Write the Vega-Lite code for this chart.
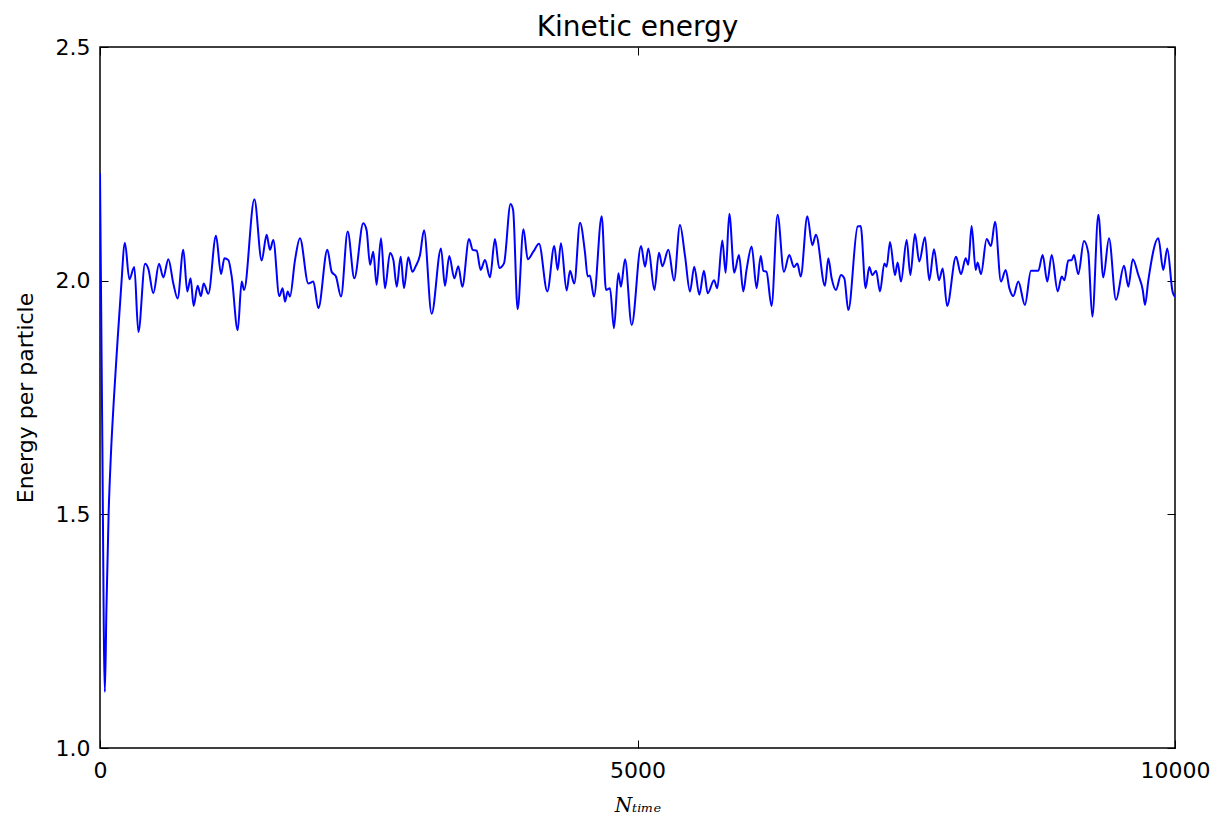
{
  "$schema": "https://vega.github.io/schema/vega-lite/v6.json",
  "width": 1075,
  "height": 701,
  "autosize": {"type": "none"},
  "padding": {"left": 100, "top": 47, "right": 42, "bottom": 70},
  "background": "white",
  "title": {"text": "Kinetic energy", "fontSize": 28, "font": "DejaVu Sans", "fontWeight": "normal", "color": "black", "offset": -6, "anchor": "middle"},
  "config": {
    "view": {"stroke": "black", "strokeWidth": 1.5},
    "axis": {"grid": false, "domain": false, "ticks": true, "tickSize": -8, "tickColor": "black", "tickWidth": 1, "labelFont": "DejaVu Sans", "labelFontSize": 22, "labelColor": "black", "labelFlush": false, "labelOverlap": false, "titleColor": "black"}
  },
  "data": {"values": [
    {"N": 0, "E": 2.23}, {"N": 20, "E": 1.7}, {"N": 45, "E": 1.12}, {"N": 60, "E": 1.3}, {"N": 80, "E": 1.5}, {"N": 100, "E": 1.62}, {"N": 130, "E": 1.75}, {"N": 160, "E": 1.86}, {"N": 195, "E": 1.98},
    {"N": 232, "E": 2.081}, {"N": 273, "E": 2.003}, {"N": 319, "E": 2.029}, {"N": 357, "E": 1.89}, {"N": 419, "E": 2.036}, {"N": 450, "E": 2.025}, {"N": 496, "E": 1.973}, {"N": 549, "E": 2.036}, {"N": 589, "E": 2.007}, {"N": 636, "E": 2.046}, {"N": 682, "E": 1.994}, {"N": 722, "E": 1.962}, {"N": 775, "E": 2.066}, {"N": 812, "E": 1.977}, {"N": 843, "E": 2.005}, {"N": 871, "E": 1.946}, {"N": 908, "E": 1.989}, {"N": 939, "E": 1.967}, {"N": 964, "E": 1.994}, {"N": 1008, "E": 1.972},
    {"N": 1079, "E": 2.096}, {"N": 1126, "E": 2.014}, {"N": 1157, "E": 2.048}, {"N": 1194, "E": 2.044}, {"N": 1225, "E": 2.009}, {"N": 1281, "E": 1.894}, {"N": 1318, "E": 1.998}, {"N": 1340, "E": 1.98}, {"N": 1436, "E": 2.174}, {"N": 1504, "E": 2.043}, {"N": 1550, "E": 2.098}, {"N": 1581, "E": 2.066}, {"N": 1612, "E": 2.087}, {"N": 1668, "E": 1.967}, {"N": 1699, "E": 1.984}, {"N": 1721, "E": 1.955}, {"N": 1746, "E": 1.977}, {"N": 1767, "E": 1.966}, {"N": 1814, "E": 2.044}, {"N": 1860, "E": 2.091}, {"N": 1938, "E": 1.994}, {"N": 1985, "E": 1.998},
    {"N": 2031, "E": 1.941}, {"N": 2115, "E": 2.066}, {"N": 2155, "E": 2.019}, {"N": 2195, "E": 2.009}, {"N": 2242, "E": 1.966}, {"N": 2304, "E": 2.105}, {"N": 2366, "E": 2.005}, {"N": 2449, "E": 2.123}, {"N": 2480, "E": 2.108}, {"N": 2512, "E": 2.034}, {"N": 2542, "E": 2.062}, {"N": 2573, "E": 1.991}, {"N": 2614, "E": 2.091}, {"N": 2651, "E": 1.984}, {"N": 2698, "E": 2.059}, {"N": 2729, "E": 2.044}, {"N": 2760, "E": 1.987}, {"N": 2797, "E": 2.051}, {"N": 2828, "E": 1.984}, {"N": 2868, "E": 2.05}, {"N": 2906, "E": 2.019}, {"N": 2937, "E": 2.031}, {"N": 2977, "E": 2.055},
    {"N": 3014, "E": 2.108}, {"N": 3085, "E": 1.929}, {"N": 3172, "E": 2.069}, {"N": 3209, "E": 1.989}, {"N": 3249, "E": 2.053}, {"N": 3296, "E": 2.005}, {"N": 3333, "E": 2.031}, {"N": 3370, "E": 1.987}, {"N": 3433, "E": 2.089}, {"N": 3467, "E": 2.066}, {"N": 3504, "E": 2.064}, {"N": 3541, "E": 2.023}, {"N": 3581, "E": 2.044}, {"N": 3628, "E": 2.007}, {"N": 3674, "E": 2.089}, {"N": 3714, "E": 2.027}, {"N": 3758, "E": 2.037}, {"N": 3819, "E": 2.164}, {"N": 3843, "E": 2.151}, {"N": 3885, "E": 1.939}, {"N": 3939, "E": 2.11}, {"N": 3979, "E": 2.046},
    {"N": 4031, "E": 2.062}, {"N": 4084, "E": 2.079}, {"N": 4161, "E": 1.977}, {"N": 4226, "E": 2.074}, {"N": 4257, "E": 2.023}, {"N": 4288, "E": 2.08}, {"N": 4341, "E": 1.979}, {"N": 4372, "E": 2.021}, {"N": 4412, "E": 1.994}, {"N": 4465, "E": 2.124}, {"N": 4512, "E": 2.059}, {"N": 4536, "E": 2.009}, {"N": 4557, "E": 2.011}, {"N": 4595, "E": 1.966}, {"N": 4667, "E": 2.138}, {"N": 4707, "E": 1.98}, {"N": 4744, "E": 1.984}, {"N": 4781, "E": 1.898}, {"N": 4822, "E": 2.016}, {"N": 4846, "E": 1.987}, {"N": 4884, "E": 2.046}, {"N": 4946, "E": 1.905},
    {"N": 5033, "E": 2.074}, {"N": 5070, "E": 2.03}, {"N": 5101, "E": 2.069}, {"N": 5157, "E": 1.98}, {"N": 5200, "E": 2.06}, {"N": 5231, "E": 2.031}, {"N": 5287, "E": 2.066}, {"N": 5340, "E": 2.0}, {"N": 5395, "E": 2.119}, {"N": 5442, "E": 2.053}, {"N": 5488, "E": 1.977}, {"N": 5528, "E": 2.03}, {"N": 5575, "E": 1.97}, {"N": 5618, "E": 2.021}, {"N": 5653, "E": 1.973}, {"N": 5712, "E": 2.001}, {"N": 5742, "E": 1.984}, {"N": 5789, "E": 2.086}, {"N": 5820, "E": 2.017}, {"N": 5854, "E": 2.143}, {"N": 5900, "E": 2.017}, {"N": 5944, "E": 2.055}, {"N": 5984, "E": 1.977},
    {"N": 6015, "E": 2.024}, {"N": 6062, "E": 2.073}, {"N": 6108, "E": 1.984}, {"N": 6146, "E": 2.053}, {"N": 6171, "E": 2.021}, {"N": 6200, "E": 2.019}, {"N": 6247, "E": 1.946}, {"N": 6303, "E": 2.141}, {"N": 6362, "E": 2.019}, {"N": 6412, "E": 2.055}, {"N": 6455, "E": 2.029}, {"N": 6487, "E": 2.037}, {"N": 6518, "E": 2.009}, {"N": 6580, "E": 2.138}, {"N": 6626, "E": 2.076}, {"N": 6660, "E": 2.098}, {"N": 6744, "E": 1.989}, {"N": 6775, "E": 2.048}, {"N": 6806, "E": 2.005}, {"N": 6846, "E": 1.98}, {"N": 6893, "E": 2.012}, {"N": 6924, "E": 2.005}, {"N": 6961, "E": 1.937},
    {"N": 7048, "E": 2.116}, {"N": 7076, "E": 2.117}, {"N": 7122, "E": 1.984}, {"N": 7156, "E": 2.029}, {"N": 7184, "E": 2.012}, {"N": 7219, "E": 2.021}, {"N": 7256, "E": 1.977}, {"N": 7296, "E": 2.037}, {"N": 7318, "E": 2.03}, {"N": 7349, "E": 2.083}, {"N": 7395, "E": 2.012}, {"N": 7420, "E": 2.039}, {"N": 7451, "E": 1.998}, {"N": 7504, "E": 2.087}, {"N": 7538, "E": 2.012}, {"N": 7581, "E": 2.1}, {"N": 7621, "E": 2.041}, {"N": 7674, "E": 2.093}, {"N": 7714, "E": 2.001}, {"N": 7758, "E": 2.067}, {"N": 7805, "E": 2.001}, {"N": 7839, "E": 2.026}, {"N": 7880, "E": 1.946}, {"N": 7963, "E": 2.051},
    {"N": 8009, "E": 2.014}, {"N": 8053, "E": 2.048}, {"N": 8077, "E": 2.034}, {"N": 8108, "E": 2.117}, {"N": 8146, "E": 2.023}, {"N": 8164, "E": 2.039}, {"N": 8195, "E": 2.014}, {"N": 8248, "E": 2.089}, {"N": 8288, "E": 2.074}, {"N": 8326, "E": 2.126}, {"N": 8381, "E": 1.998}, {"N": 8425, "E": 2.023}, {"N": 8459, "E": 1.984}, {"N": 8496, "E": 1.967}, {"N": 8542, "E": 1.998}, {"N": 8604, "E": 1.948}, {"N": 8660, "E": 2.021}, {"N": 8728, "E": 2.021}, {"N": 8769, "E": 2.055}, {"N": 8812, "E": 1.998}, {"N": 8853, "E": 2.055}, {"N": 8909, "E": 1.977}, {"N": 8946, "E": 2.009}, {"N": 8971, "E": 2.001},
    {"N": 9007, "E": 2.043}, {"N": 9040, "E": 2.044}, {"N": 9060, "E": 2.055}, {"N": 9100, "E": 2.014}, {"N": 9153, "E": 2.085}, {"N": 9193, "E": 2.06}, {"N": 9231, "E": 1.923}, {"N": 9287, "E": 2.141}, {"N": 9333, "E": 2.007}, {"N": 9386, "E": 2.091}, {"N": 9451, "E": 1.959}, {"N": 9526, "E": 2.032}, {"N": 9566, "E": 1.987}, {"N": 9607, "E": 2.046}, {"N": 9659, "E": 2.012}, {"N": 9700, "E": 1.98}, {"N": 9721, "E": 1.948}, {"N": 9752, "E": 2.001}, {"N": 9845, "E": 2.091}, {"N": 9891, "E": 2.023}, {"N": 9928, "E": 2.069}, {"N": 9977, "E": 1.977}, {"N": 10000, "E": 1.965}
  ]},
  "layer": [
    {
      "mark": {"type": "line", "color": "#0000ff", "strokeWidth": 2, "interpolate": "monotone", "clip": true},
      "encoding": {
        "x": {"field": "N", "type": "quantitative", "scale": {"domain": [0, 10000], "nice": false, "zero": false},
              "axis": {"orient": "bottom", "values": [0, 5000, 10000], "format": "d", "labelPadding": 20, "title": "Nₜᵢₘₑ", "titleFont": "DejaVu Serif", "titleFontStyle": "italic", "titleFontWeight": "normal", "titleFontSize": 20, "titlePadding": 14}},
        "y": {"field": "E", "type": "quantitative", "scale": {"domain": [1.0, 2.5], "nice": false, "zero": false},
              "axis": {"orient": "left", "values": [1.0, 1.5, 2.0, 2.5], "format": ".1f", "labelPadding": 18, "title": "Energy per particle", "titleFont": "DejaVu Sans", "titleFontWeight": "normal", "titleFontSize": 22, "titlePadding": 18}}
      }
    },
    {
      "mark": {"type": "line", "opacity": 0},
      "encoding": {
        "x": {"field": "N", "type": "quantitative", "axis": {"orient": "top", "values": [0, 5000, 10000], "labels": false, "title": null}},
        "y": {"field": "E", "type": "quantitative", "axis": {"orient": "right", "values": [1.0, 1.5, 2.0, 2.5], "labels": false, "title": null}}
      }
    }
  ],
  "resolve": {"axis": {"x": "independent", "y": "independent"}}
}
